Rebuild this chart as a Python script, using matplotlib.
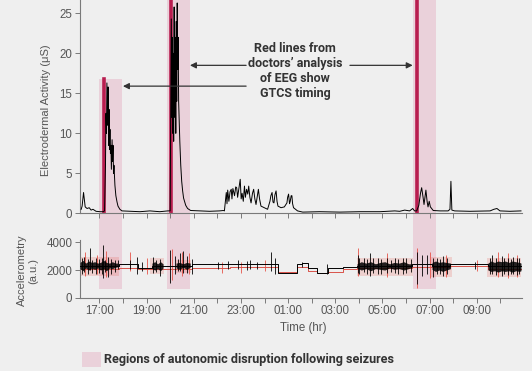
import matplotlib.pyplot as plt
import numpy as np
from matplotlib.patches import Rectangle, Patch
from matplotlib.transforms import blended_transform_factory

# 时间单位：小时（超过24表示第二天）
eda_t = [16.23, 16.27, 16.33, 16.40, 16.48, 16.57, 16.65, 16.73, 16.86, 17.03, 17.16, 17.22,
         17.26, 17.28, 17.30, 17.32, 17.35, 17.37, 17.39, 17.41, 17.43, 17.45, 17.47, 17.49,
         17.51, 17.54, 17.56, 17.58, 17.60, 17.62, 17.66, 17.70, 17.75, 17.79, 17.87, 17.96,
         18.30, 18.72, 19.14, 19.56, 19.90, 20.00, 20.03, 20.05, 20.07, 20.09, 20.11, 20.13,
         20.15, 20.17, 20.19, 20.22, 20.24, 20.26, 20.28, 20.30, 20.32, 20.34, 20.36, 20.41,
         20.45, 20.49, 20.53, 20.57, 20.66, 20.74, 20.87, 21.25, 21.67, 22.09, 22.26,
         22.30, 22.38, 22.41, 22.44, 22.49, 22.54, 22.59, 22.62, 22.66, 22.73, 22.78, 22.82,
         22.86, 22.91, 22.97, 23.01, 23.05, 23.10, 23.15, 23.19, 23.24, 23.29, 23.33, 23.38,
         23.43, 23.49, 23.54, 23.59, 23.64, 23.70, 23.74, 23.79, 23.85, 23.99, 24.13, 24.23,
         24.27, 24.32, 24.36, 24.40, 24.44, 24.49, 24.53, 24.57, 24.70, 24.84, 24.95, 24.98,
         25.02, 25.06, 25.09, 25.13, 25.16, 25.19, 25.23, 25.40, 25.62, 26.34, 27.19, 28.04,
         28.89, 29.52, 29.73, 29.94, 30.15, 30.28, 30.36, 30.45, 30.54, 30.61, 30.66, 30.72,
         30.76, 30.80, 30.84, 30.89, 30.93, 30.98, 31.03, 31.15, 31.44, 31.78, 31.86, 31.90,
         31.94, 32.06, 32.71, 33.56, 33.72, 33.85, 33.98, 34.40, 34.87]
eda_v = [0.5, 0.9, 2.6, 0.8, 0.6, 0.7, 0.4, 0.5, 0.25, 0.2, 0.2, 0.3,
         6.0, 12.5, 10.0, 16.3, 11.0, 15.8, 8.5, 13.0, 8.0, 10.5, 7.5, 8.5,
         5.5, 9.2, 6.5, 8.5, 5.0, 6.0, 3.5, 2.2, 1.4, 0.9, 0.5, 0.3,
         0.25, 0.2, 0.3, 0.2, 0.3, 0.3, 14.0, 24.3, 12.0, 22.0, 10.0, 20.0,
         9.0, 25.8, 12.0, 22.0, 10.0, 24.0, 14.0, 26.3, 18.0, 22.0, 14.0, 9.0,
         6.0, 4.0, 2.8, 1.9, 1.0, 0.6, 0.35, 0.3, 0.25, 0.3, 0.35,
         0.3, 2.6, 1.2, 2.9, 1.5, 2.7, 3.0, 1.8, 3.1, 2.2, 3.3, 3.2,
         2.0, 3.0, 4.25, 1.8, 2.5, 1.5, 3.4, 2.0, 3.0, 2.4, 3.4, 2.0,
         1.3, 2.5, 3.0, 1.8, 1.1, 2.2, 3.0, 1.8, 0.9, 0.7, 0.5, 1.5,
         2.2, 2.6, 1.4, 1.3, 2.3, 2.8, 1.5, 0.9, 0.7, 0.8, 1.3, 2.0,
         2.4, 1.2, 1.5, 2.2, 2.2, 1.2, 0.7, 0.3, 0.15, 0.2, 0.15, 0.2,
         0.2, 0.3, 0.25, 0.4, 0.3, 0.6, 0.3, 0.3, 1.0, 2.5, 3.2, 2.0,
         1.1, 2.0, 2.9, 1.5, 0.8, 1.5, 0.8, 0.35, 0.3, 0.3, 0.5, 4.0,
         0.4, 0.3, 0.25, 0.3, 0.5, 0.6, 0.3, 0.25, 0.3]

# 医生脑电分析得到的发作时刻（红线）
seizure_t = [17.18, 20.02, 30.47]
seizure_top = [16.75, None, None]
# 发作后自主神经紊乱区间
span_start = [16.97, 19.88, 30.28]
span_end = [17.97, 20.84, 31.27]

# 加速度：基线（阶梯）
acc_k_t = [16.18, 17.83, 18.64, 19.23, 20.93, 24.57, 25.38, 25.59, 25.84, 26.23, 26.69,
           27.33, 27.92, 30.25, 31.10, 31.88, 33.47, 34.87]
acc_k_v = [2300, 2410, 2150, 2300, 2410, 1810, 2410, 2480, 2120, 1760, 2120,
           2240, 2300, 2410, 2300, 2410, 2300, 2300]
acc_r_t = [16.18, 17.83, 18.64, 19.23, 20.93, 22.54, 24.57, 25.38, 25.84, 26.23, 26.69,
           27.33, 27.92, 30.25, 31.88, 33.47, 34.87]
acc_r_v = [2100, 2170, 2050, 2100, 2170, 2240, 1850, 2250, 1950, 1800, 1880,
           2100, 2150, 2250, 2300, 2100, 2100]

# 加速度：密集噪声段（黑）
band_t = [[16.18, 16.3, 16.42, 16.55, 16.68, 16.8, 16.93, 17.05, 17.18, 17.3, 17.43, 17.55, 17.68, 17.79],
          [19.23, 19.35, 19.47, 19.59, 19.70],
          [20.25, 20.4, 20.55, 20.7, 20.85],
          [27.92, 28.1, 28.3, 28.5, 28.7, 28.9, 29.1, 29.3, 29.5, 29.7, 29.9, 30.1, 30.25],
          [31.10, 31.25, 31.4, 31.55, 31.7, 31.88],
          [33.47, 33.6, 33.75, 33.9, 34.05, 34.2, 34.35, 34.5, 34.65, 34.8, 34.87]]
band_lo = [[2100, 1950, 2150, 2000, 2150, 2050, 2150, 2000, 2100, 1950, 2150, 2100, 2200, 2250],
           [2100, 2000, 2100, 1950, 2150],
           [2150, 2050, 2200, 2050, 2200],
           [2150, 2000, 2100, 1950, 2100, 2050, 2000, 2150, 2050, 2100, 2000, 2100, 2200],
           [2050, 1900, 2000, 1900, 2000, 2100],
           [2000, 1900, 1950, 1850, 1950, 1900, 1950, 1850, 1950, 1900, 1950]]
band_hi = [[2550, 2700, 2500, 2650, 2550, 2600, 2500, 2550, 2700, 2550, 2500, 2600, 2500, 2500],
           [2500, 2600, 2450, 2600, 2450],
           [2500, 2550, 2450, 2550, 2500],
           [2450, 2600, 2500, 2600, 2450, 2550, 2600, 2450, 2550, 2500, 2600, 2450, 2450],
           [2550, 2650, 2550, 2600, 2550, 2500],
           [2500, 2650, 2550, 2650, 2600, 2650, 2550, 2650, 2600, 2550, 2500]]
# 红色噪声段
rband_start = [16.18, 19.15, 20.2, 27.9, 31.05, 33.45]
rband_end = [17.85, 19.75, 20.9, 30.3, 31.95, 34.87]
rband_lo = [1600, 1700, 1800, 1550, 1500, 1500]
rband_hi = [2950, 2850, 2750, 2900, 2950, 2900]

# 尖峰
spk_k_t = [16.25, 16.35, 16.5, 16.61, 16.7, 16.85, 17.0, 17.1, 17.17, 17.25, 17.38, 17.5,
           17.65, 17.79, 18.30, 18.58, 18.80, 19.28, 19.4, 19.57, 20.00, 20.21, 20.32, 20.42,
           20.56, 20.70, 20.92, 22.03, 22.45, 22.88, 23.25, 23.39, 23.67, 24.28, 24.44, 25.58,
           26.64, 27.97, 28.0, 28.2, 28.35, 28.47, 28.6, 28.82, 28.95, 29.2, 29.35, 29.52,
           29.65, 29.88, 30.0, 30.2, 30.45, 30.66, 30.87, 31.16, 31.3, 31.45, 31.58, 31.75,
           32.92, 33.55, 33.63, 33.8, 34.05, 34.15, 34.3, 34.45, 34.54, 34.7, 34.8]
spk_k_lo = [1750, 1850, 1700, 2000, 1800, 1750, 1800, 1700, 1400, 1850, 1500, 1750,
            1850, 2100, 2100, 1700, 1900, 1800, 1850, 1600, 1050, 1700, 1950, 1900,
            1800, 1800, 1700, 2100, 2100, 2100, 2000, 2100, 2100, 1900, 1700, 2200,
            1700, 1800, 1750, 1850, 1700, 1600, 1800, 1700, 1750, 1800, 1850, 1800,
            1750, 1700, 1800, 1850, 1000, 1600, 1700, 1500, 1700, 1750, 1600, 1700,
            2100, 1700, 1700, 1650, 1600, 1700, 1650, 1700, 1700, 1650, 1700]
spk_k_hi = [2850, 2950, 2800, 3560, 2750, 2900, 2800, 2850, 3800, 2750, 2950, 2800,
            2750, 2700, 2700, 2950, 2600, 2950, 2750, 2800, 3450, 3000, 2800, 3200,
            3400, 3000, 2800, 2600, 2650, 2700, 2650, 2700, 2600, 3320, 2900, 2600,
            2450, 3100, 2850, 2900, 2800, 3200, 2850, 2900, 2800, 2850, 2750, 2900,
            2800, 2850, 2900, 2800, 3300, 3100, 3100, 2900, 2850, 2800, 3000, 2900,
            2600, 2850, 3100, 2900, 3000, 2850, 2900, 2800, 2950, 2900, 2850]
spk_r_t = [16.4, 16.9, 17.3, 18.30, 19.0, 20.1, 20.5, 20.8, 22.2, 23.0, 24.0, 27.97,
           29.2, 30.45, 31.0, 31.7, 33.0, 33.9, 34.3, 34.7]
spk_r_lo = [1600, 1700, 1500, 1900, 1700, 1300, 1600, 1700, 1800, 1800, 1900, 1600,
            1500, 680, 1400, 1500, 1900, 1500, 1400, 1500]
spk_r_hi = [3300, 3100, 3400, 3320, 2900, 3500, 3300, 3200, 2600, 2600, 2700, 3560,
            3200, 3560, 3300, 3100, 2700, 3300, 3200, 3100]

arrow_head = [18.00, 20.84, 30.28]
arrow_tail = [23.22, 23.22, 27.62]
arrow_y = [15.9, 18.5, 18.5]

hour_ticks = list(range(17, 35))
label_hours = list(range(17, 35, 2))

bg = '#efefef'
pink = '#ead1da'
crimson = '#b81d4f'
gray = '#555555'
spine_c = '#7a7a7a'

fig = plt.figure(figsize=(5.32, 3.71), dpi=100, facecolor=bg)
W, H = 532, 371
ax1 = fig.add_axes([80 / W, 1 - 213.3 / H, 441.7 / W, 213.3 / H])
ax2 = fig.add_axes([80 / W, 1 - 297.8 / H, 441.7 / W, 57.6 / H])

for ax in (ax1, ax2):
    ax.set_facecolor('none')
    ax.set_xlim(16.18, 34.9)
    for s in ('top', 'right'):
        ax.spines[s].set_visible(False)
    for s in ('left', 'bottom'):
        ax.spines[s].set_color(spine_c)
        ax.spines[s].set_linewidth(0.8)
    ax.set_xticks(hour_ticks)
    ax.tick_params(direction='out', length=3.5, width=0.7, color=spine_c,
                   labelcolor=gray, labelsize=8.3, pad=2)

ax1.set_ylim(0, 26.67)
ax1.set_yticks([0, 5, 10, 15, 20, 25])
ax1.set_xticklabels([])
ax2.set_ylim(0, 4150)
ax2.set_yticks([0, 2000, 4000])
ax2.set_xticklabels([f'{h % 24:02d}:00' if h in label_hours else '' for h in hour_ticks],
                    fontfamily='Liberation Sans')
for ax in (ax1, ax2):
    for lab in ax.get_yticklabels():
        lab.set_fontfamily('Liberation Sans')

# 粉色区域，贯穿上下两个子图
trans = blended_transform_factory(ax1.transData, fig.transFigure)
to_fig = fig.transFigure.inverted()
y_bot = to_fig.transform(ax2.transData.transform((0, 640)))[1]
for s, e, top in zip(span_start, span_end, seizure_top):
    y_top = 1.0 if top is None else to_fig.transform(ax1.transData.transform((0, top)))[1]
    fig.add_artist(Rectangle((s, y_bot), e - s, y_top - y_bot, transform=trans,
                             facecolor=pink, edgecolor='none', zorder=-1))

# 皮肤电
ax1.plot(eda_t, eda_v, color='black', lw=0.7, zorder=3)
for t, top in zip(seizure_t, seizure_top):
    ymax = 1.0 if top is None else top / 26.67
    ax1.axvline(t, ymin=0, ymax=ymax, color=crimson, lw=2.6, zorder=2)

ax1.text(25.30, 17.85, "Red lines from\ndoctors’ analysis\nof EEG show\nGTCS timing",
         ha='center', va='center', multialignment='center', fontsize=9, fontweight='bold',
         fontfamily='Roboto', color='#333333', linespacing=1.2)
for h, t, y in zip(arrow_head, arrow_tail, arrow_y):
    ax1.annotate('', xy=(h, y), xytext=(t, y),
                 arrowprops=dict(arrowstyle='-|>', color='#333333', lw=0.9,
                                 mutation_scale=9, shrinkA=0, shrinkB=0))

# 加速度
for s, e, lo, hi in zip(rband_start, rband_end, rband_lo, rband_hi):
    ax2.fill_between([s, e], lo, hi, color='#e5483c', alpha=0.18, lw=0, zorder=1)
ax2.vlines(spk_r_t, spk_r_lo, spk_r_hi, color='#e5483c', lw=0.7, alpha=0.8, zorder=1)
ax2.step(acc_r_t, acc_r_v, where='post', color='#d9534a', lw=0.7, zorder=2)
ax2.step(acc_k_t, acc_k_v, where='post', color='black', lw=0.7, zorder=3)
for t, lo, hi in zip(band_t, band_lo, band_hi):
    ax2.fill_between(t, lo, hi, color='black', alpha=0.85, lw=0, zorder=3)
ax2.vlines(spk_k_t, spk_k_lo, spk_k_hi, color='black', lw=0.6, zorder=4)

ax1.set_ylabel('Electrodermal Activity (μS)', fontsize=8, color=gray,
               fontfamily='Liberation Sans')
ax1.yaxis.label.set_va('center')
ax1.yaxis.set_label_coords((45.7 - 80) / 441.7, (213.3 - 110) / 213.3)
ax2.set_ylabel('Accelerometry\n(a.u.)', fontsize=8, color=gray,
               fontfamily='Liberation Sans', linespacing=1.1)
ax2.yaxis.label.set_va('center')
ax2.yaxis.set_label_coords((27.5 - 80) / 441.7, (297.8 - 270.5) / 57.6)
ax2.set_xlabel('Time (hr)', fontsize=8.3, color=gray, fontfamily='Liberation Sans')
ax2.xaxis.label.set_va('center')
ax2.xaxis.set_label_coords((303 - 80) / 441.7, (297.8 - 328) / 57.6)

fig.legend(handles=[Patch(facecolor=pink, edgecolor='none',
                          label='Regions of autonomic disruption following seizures')],
           loc='lower left', bbox_to_anchor=(82 / W, 4 / H), frameon=False,
           borderpad=0, borderaxespad=0, handlelength=1.5, handleheight=1.5,
           handletextpad=0.25,
           prop={'family': 'Roboto', 'weight': 'bold', 'size': 9.1}, labelcolor='#333333')

fig.savefig('out.png', dpi=100, facecolor=bg)
